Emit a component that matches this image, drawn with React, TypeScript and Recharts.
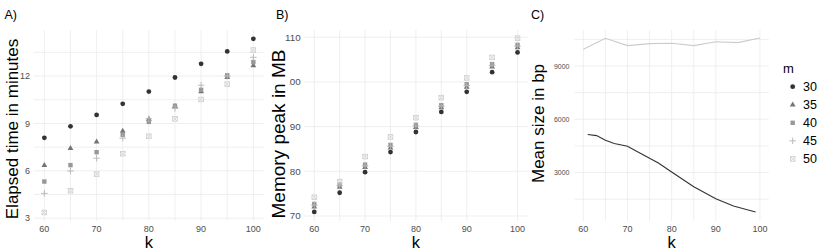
import React from 'react';
import { ScatterChart, Scatter, LineChart, Line, XAxis, YAxis, CartesianGrid } from 'recharts';

const FONT = '"Liberation Sans", Arial, Helvetica, sans-serif';

const kValues = [60, 65, 70, 75, 80, 85, 90, 95, 100];
const kTicks = [60, 70, 80, 90, 100];
const kGrid = [60, 65, 70, 75, 80, 85, 90, 95, 100];
const mValues = ['30', '35', '40', '45', '50'];
const mColors = ['#333333', '#747474', '#989898', '#b4b4b4', '#cccccc'];
const mShapes = ['circle', 'triangle', 'square', 'plus', 'boxcross'];

// A) elapsed time in minutes
const time30 = [8.09, 8.82, 9.54, 10.24, 11.02, 11.91, 12.78, 13.56, 14.36];
const time35 = [6.36, 7.43, 7.85, 8.53, 9.27, 10.1, 11.02, 11.93, 12.68];
const time40 = [5.32, 6.36, 7.18, 8.28, 9.1, 10.12, 11.13, 12.05, 12.89];
const time45 = [4.57, 5.99, 6.8, 8.07, 9.3, 9.95, 11.42, 12.0, 13.19];
const time50 = [3.36, 4.74, 5.79, 7.08, 8.19, 9.29, 10.52, 11.49, 13.65];
const timeTicks = [3, 6, 9, 12];
const timeGrid = [3, 4.5, 6, 7.5, 9, 10.5, 12, 13.5];

// B) memory peak in MB
const mem30 = [70.9, 75.2, 79.8, 84.3, 88.8, 93.3, 97.8, 102.2, 106.6];
const mem35 = [72.1, 76.5, 80.9, 85.3, 89.9, 94.3, 98.9, 103.4, 107.7];
const mem40 = [72.7, 77.0, 81.5, 85.9, 90.4, 94.8, 99.5, 104.0, 108.3];
const mem45 = [72.4, 76.8, 81.2, 85.6, 90.1, 94.6, 99.2, 103.7, 108.0];
const mem50 = [74.2, 77.7, 83.3, 87.7, 92.0, 96.5, 100.9, 105.5, 109.8];
const memTicks = [70, 80, 90, 100, 110];
const memGrid = [70, 75, 80, 85, 90, 95, 100, 105, 110];

// C) mean size in bp
const sizeK30 = [61, 63, 65, 67, 70, 73, 77, 80, 85, 90, 94, 99];
const size30 = [5140, 5080, 4820, 4640, 4480, 4070, 3540, 3030, 2200, 1520, 1110, 780];
const size50 = [9940, 10560, 10150, 10260, 10280, 10150, 10370, 10320, 10580];
const sizeTicks = [3000, 6000, 9000];
const sizeGrid = [1500, 3000, 4500, 6000, 7500, 9000, 10500];

const toPoints = (ks: number[], vs: number[]) => ks.map((k, i) => ({ k, v: vs[i] }));
const timeSeries = [time30, time35, time40, time45, time50].map((vs) => toPoints(kValues, vs));
const memSeries = [mem30, mem35, mem40, mem45, mem50].map((vs) => toPoints(kValues, vs));

function Mark({ kind, color, cx, cy }: { kind: string; color: string; cx: number; cy: number }) {
  if (kind === 'circle') return <circle cx={cx} cy={cy} r={2.4} fill={color} />;
  if (kind === 'triangle')
    return <polygon points={`${cx},${cy - 3.2} ${cx - 2.9},${cy + 1.8} ${cx + 2.9},${cy + 1.8}`} fill={color} />;
  if (kind === 'square') return <rect x={cx - 2.2} y={cy - 2.2} width={4.4} height={4.4} fill={color} />;
  if (kind === 'plus')
    return (
      <path d={`M${cx - 3.3},${cy}H${cx + 3.3}M${cx},${cy - 3.3}V${cy + 3.3}`} stroke={color} strokeWidth={0.9} fill="none" />
    );
  return (
    <g stroke={color} strokeWidth={0.8} fill="none">
      <rect x={cx - 2.3} y={cy - 2.3} width={4.6} height={4.6} />
      <path d={`M${cx - 2.3},${cy - 2.3}L${cx + 2.3},${cy + 2.3}M${cx + 2.3},${cy - 2.3}L${cx - 2.3},${cy + 2.3}`} />
    </g>
  );
}

const shapeFor = (i: number) => (props: any) => (
  <Mark kind={mShapes[i]} color={mColors[i]} cx={props.cx} cy={props.cy} />
);

const tickStyle = { fontSize: 9, fill: '#4d4d4d', fontFamily: FONT };

const xTitle = (props: any) => {
  const vb = props.viewBox;
  return (
    <text x={vb.x + vb.width / 2} y={vb.y + vb.height - 4} textAnchor="middle" fontSize={16.5} fill="#000" fontFamily={FONT}>
      k
    </text>
  );
};

function RotatedTitle({ text, cx, cy, fs, cover }: { text: string; cx: number; cy: number; fs: number; cover?: number }) {
  return (
    <g>
      {cover ? <rect x={cx - fs * 0.75} y={cy - cover / 2} width={fs * 1.3} height={cover} fill="#fff" /> : null}
      <text
        x={cx}
        y={cy}
        dy="0.36em"
        transform={`rotate(-90, ${cx}, ${cy})`}
        textAnchor="middle"
        fontSize={fs}
        fill="#000"
        fontFamily={FONT}
      >
        {text}
      </text>
    </g>
  );
}

const yTitle = (text: string, offset: number, shift: number) => (props: any) => {
  const vb = props.viewBox;
  return <RotatedTitle text={text} cx={vb.x + offset} cy={vb.y + vb.height / 2 + shift} fs={17} />;
};

const xAxisProps = {
  type: 'number' as const,
  dataKey: 'k',
  domain: [58, 102],
  ticks: kTicks,
  allowDataOverflow: true,
  axisLine: false,
  tickLine: false,
  tickSize: 0,
  tickMargin: 5,
  height: 31,
  tick: tickStyle,
  label: { value: 'k', content: xTitle },
};

function TimePanel() {
  return (
    <ScatterChart width={268} height={252} margin={{ top: 30, right: 4.2, bottom: 0, left: 0 }}>
      <CartesianGrid stroke="#ebebeb" strokeWidth={0.8} verticalValues={kGrid} horizontalValues={timeGrid} />
      <XAxis {...xAxisProps} />
      <YAxis
        type="number"
        dataKey="v"
        domain={[2.82, 14.92]}
        ticks={timeTicks}
        allowDataOverflow
        axisLine={false}
        tickLine={false}
        tickSize={0}
        tickMargin={4}
        width={33.9}
        tick={tickStyle}
        label={{ value: 'Elapsed time in minutes', content: yTitle('Elapsed time in minutes', 12, 3.5) }}
      />
      {timeSeries.map((d, i) => (
        <Scatter key={mValues[i]} name={mValues[i]} data={d} shape={shapeFor(i)} isAnimationActive={false} />
      ))}
    </ScatterChart>
  );
}

function MemoryPanel() {
  return (
    <ScatterChart width={260} height={252} margin={{ top: 30, right: 0.3, bottom: 0, left: 0 }}>
      <CartesianGrid stroke="#ebebeb" strokeWidth={0.8} verticalValues={kGrid} horizontalValues={memGrid} />
      <XAxis {...xAxisProps} />
      <YAxis
        type="number"
        dataKey="v"
        domain={[68.88, 111.63]}
        ticks={memTicks}
        allowDataOverflow
        axisLine={false}
        tickLine={false}
        tickSize={0}
        tickMargin={3.5}
        width={36.1}
        tick={{ ...tickStyle, fontSize: 9.8 }}
      />
      {memSeries.map((d, i) => (
        <Scatter key={mValues[i]} name={mValues[i]} data={d} shape={shapeFor(i)} isAnimationActive={false} />
      ))}
    </ScatterChart>
  );
}

function SizePanel() {
  return (
    <LineChart width={302} height={252} margin={{ top: 30, right: 61.2, bottom: 0, left: 0 }}>
      <CartesianGrid stroke="#ebebeb" strokeWidth={0.8} verticalValues={kGrid} horizontalValues={sizeGrid} />
      <XAxis {...xAxisProps} />
      <YAxis
        type="number"
        domain={[270, 11030]}
        ticks={sizeTicks}
        allowDataOverflow
        axisLine={false}
        tickLine={false}
        tickSize={0}
        tickMargin={5}
        width={46.5}
        tick={{ ...tickStyle, fontSize: 7 }}
        label={{ value: 'Mean size in bp', content: yTitle('Mean size in bp', 9.5, -2) }}
      />
      <Line data={toPoints(kValues, size50)} dataKey="v" stroke="#cccccc" strokeWidth={1.1} dot={false} isAnimationActive={false} />
      <Line data={toPoints(sizeK30, size30)} dataKey="v" stroke="#333333" strokeWidth={1.1} dot={false} isAnimationActive={false} />
    </LineChart>
  );
}

function Overlay() {
  return (
    <svg width={830} height={252} style={{ position: 'absolute', left: 0, top: 0, pointerEvents: 'none' }} fontFamily={FONT}>
      <text x={4.5} y={19} fontSize={12.5} fill="#000">A)</text>
      <text x={276} y={19} fontSize={12.5} fill="#000">B)</text>
      <text x={531} y={19} fontSize={12.5} fill="#000">C)</text>
      {/* panel B's title sits on top of its "100" tick, as in the source figure */}
      <RotatedTitle text="Memory peak in MB" cx={278.6} cy={134} fs={19} cover={172} />
      <text x={783} y={73.3} fontSize={13} fill="#000">m</text>
      {mValues.map((m, i) => (
        <g key={m}>
          <Mark kind={mShapes[i]} color={mColors[i]} cx={792.7} cy={86.7 + i * 18.05} />
          <text x={803} y={86.7 + i * 18.05 + 4.5} fontSize={12.5} fill="#000">
            {m}
          </text>
        </g>
      ))}
    </svg>
  );
}

export default function App() {
  return (
    <div style={{ position: 'absolute', left: 0, top: 0, width: 830, height: 252, background: '#fff', fontFamily: FONT }}>
      <div style={{ position: 'absolute', left: 0, top: 0 }}>
        <TimePanel />
      </div>
      <div style={{ position: 'absolute', left: 268, top: 0 }}>
        <MemoryPanel />
      </div>
      <div style={{ position: 'absolute', left: 528, top: 0 }}>
        <SizePanel />
      </div>
      <Overlay />
    </div>
  );
}
